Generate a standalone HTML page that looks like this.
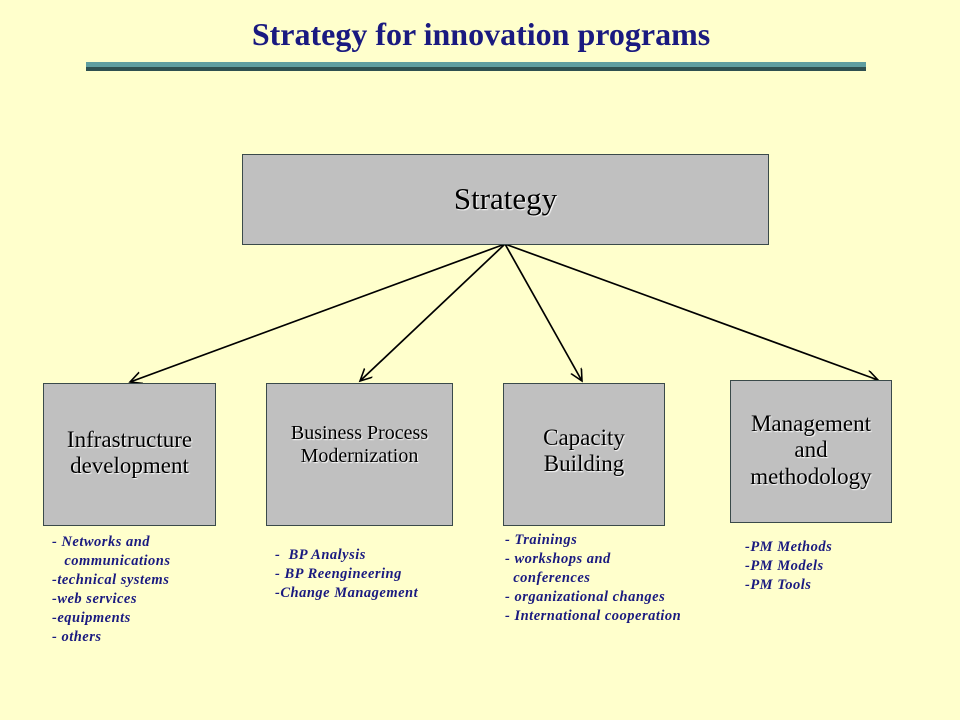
<!DOCTYPE html>
<html><head><meta charset="utf-8"><style>
body{margin:0;width:960px;height:720px;background:#ffffcc;position:relative;overflow:hidden;font-family:"Liberation Serif",serif}
.box{position:absolute;background:#c0c0c0;border:1px solid #3a4a4a;box-sizing:border-box;display:flex;align-items:center;justify-content:center;text-align:center;color:#000;text-shadow:1px 1px 1px #fff}
.list{position:absolute;color:#1a1a80;font-weight:bold;font-style:italic;font-size:14.5px;letter-spacing:0.5px;line-height:19px;white-space:pre}
</style></head><body>
<div style="position:absolute;left:0;width:962px;top:16px;text-align:center;font-weight:bold;font-size:32px;color:#1a1a80">Strategy for innovation programs</div>
<div style="position:absolute;left:86px;top:62px;width:780px;height:5px;background:#5f9ea0"></div>
<div style="position:absolute;left:86px;top:67px;width:780px;height:4px;background:#2f5050"></div>
<svg width="960" height="720" style="position:absolute;left:0;top:0">
<defs><marker id="ah" markerWidth="14" markerHeight="14" refX="12" refY="6" orient="auto" markerUnits="userSpaceOnUse"><path d="M0,0 L12,6 L0,12" fill="none" stroke="#000" stroke-width="1.6"/></marker></defs>
<g stroke="#000" stroke-width="1.7" fill="none">
<line x1="505" y1="244" x2="130" y2="382" marker-end="url(#ah)"/>
<line x1="505" y1="244" x2="360" y2="381" marker-end="url(#ah)"/>
<line x1="505" y1="244" x2="582" y2="381" marker-end="url(#ah)"/>
<line x1="505" y1="244" x2="878" y2="380" marker-end="url(#ah)"/>
</g></svg>
<div class="box" style="left:242px;top:154px;width:527px;height:91px;font-size:31px;padding-bottom:2px">Strategy</div>
<div class="box" style="left:43px;top:383px;width:173px;height:143px;font-size:23px;line-height:26px;padding-bottom:4px">Infrastructure<br>development</div>
<div class="box" style="left:266px;top:383px;width:187px;height:143px;font-size:20px;line-height:23px;padding-bottom:20px">Business Process<br>Modernization</div>
<div class="box" style="left:503px;top:383px;width:162px;height:143px;font-size:23px;line-height:26px;padding-bottom:7px">Capacity<br>Building</div>
<div class="box" style="left:730px;top:380px;width:162px;height:143px;font-size:23px;line-height:26.5px;padding-bottom:2px">Management<br>and<br>methodology</div>
<div class="list" style="left:52px;top:533px">- Networks and
   communications
-technical systems
-web services
-equipments
- others</div>
<div class="list" style="left:275px;top:546px">-  BP Analysis
- BP Reengineering
-Change Management</div>
<div class="list" style="left:505px;top:531px">- Trainings
- workshops and
  conferences
- organizational changes
- International cooperation</div>
<div class="list" style="left:745px;top:538px">-PM Methods
-PM Models
-PM Tools</div>
</body></html>
